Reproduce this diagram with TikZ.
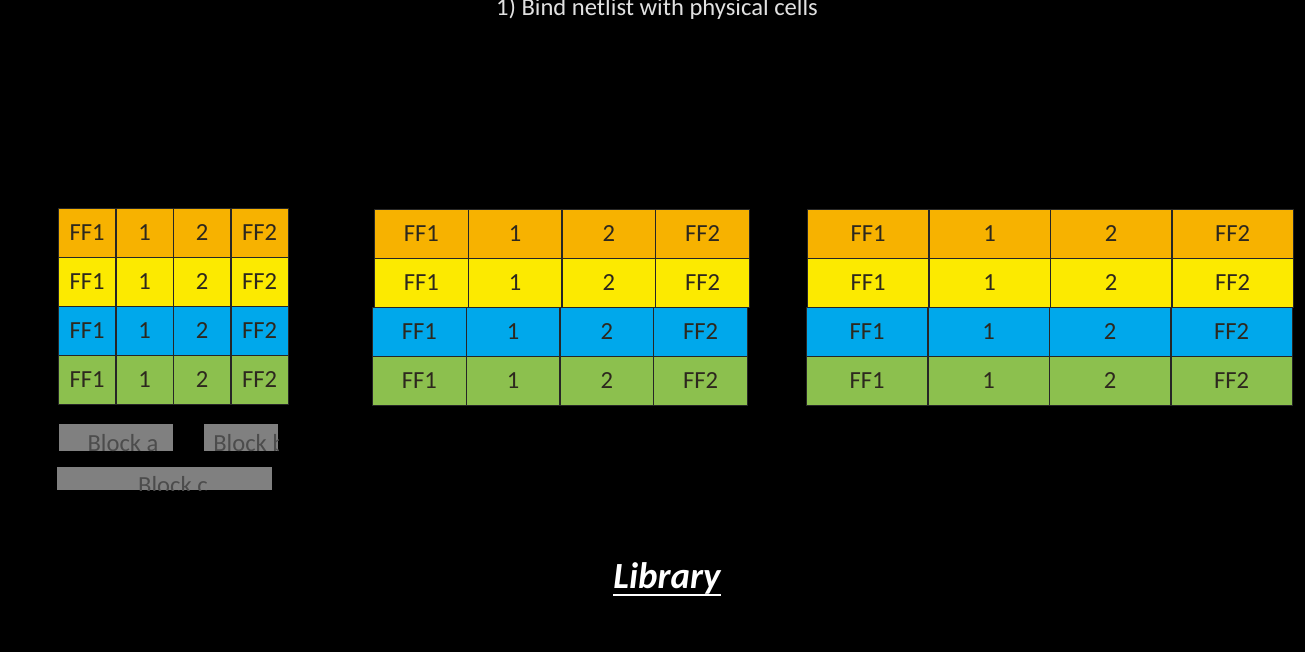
\documentclass[tikz,border=0pt]{standalone}
\usepackage{fontspec}
\setmainfont{Carlito}
\usetikzlibrary{positioning,calc}
\definecolor{ffo}{RGB}{247,178,0}
\definecolor{ffy}{RGB}{252,234,0}
\definecolor{ffb}{RGB}{0,168,235}
\definecolor{ffg}{RGB}{140,192,78}
\definecolor{blkgray}{RGB}{128,128,128}
\definecolor{celltext}{RGB}{45,40,30}
\definecolor{titlegray}{RGB}{225,225,225}
\tikzset{
  cell/.style     = {draw=black!85,line width=0.5pt,anchor=north west,inner sep=0pt,
                     text=celltext,font=\fontsize{14}{16}\selectfont,minimum height=0.98cm},
  blk/.style      = {fill=blkgray,anchor=north west,inner sep=0pt},
  blklabel/.style = {text=black!70,font=\fontsize{14}{16}\selectfont,inner sep=0pt},
  title/.style    = {text=titlegray,font=\fontsize{14}{16}\selectfont,anchor=base,inner sep=0pt},
}

\begin{document}
\begin{tikzpicture}[x=0.02cm,y=-0.02cm]
  \path[use as bounding box,fill=black] (0,0) rectangle (1305,652);
  \node[title] (title) at (657,16) {1) Bind netlist with physical cells};
  % three cell rows per colour: small, medium, large
  \foreach \r/\c/\ya/\yb/\xb/\xc in {1/ffo/208/209/374/807,2/ffy/257/258/374/807,
                                     3/ffb/306/307/372/806,4/ffg/355/356/372/806} {
    \foreach \k/\t in {1/FF1,2/1,3/2,4/FF2} {
      \node[cell,fill=\c,minimum width=1.15cm]  (s\r\k) at ({58+57.5*(\k-1)},\ya) {\t};
      \node[cell,fill=\c,minimum width=1.875cm] (m\r\k) at ({\xb+93.75*(\k-1)},\yb) {\t};
      \node[cell,fill=\c,minimum width=2.43cm]  (l\r\k) at ({\xc+121.5*(\k-1)},\yb) {\t};
    }
  }
  % blocks
  \node[blk,minimum width=2.28cm,minimum height=0.54cm] (blocka) at (59,424) {};
  \node[blk,minimum width=1.48cm,minimum height=0.54cm] (blockb) at (204,424) {};
  \node[blk,minimum width=4.3cm,minimum height=0.46cm]  (blockc) at (57,467) {};
  \begin{scope}
    \clip (blocka.south west) rectangle (blocka.north east);
    \node[blklabel,anchor=base] (labela) at (123,451) {Block a};
  \end{scope}
  \begin{scope}
    \clip (blockb.south west) rectangle (blockb.north east);
    \node[blklabel,anchor=base west] (labelb) at (213,451) {Block b};
  \end{scope}
  \begin{scope}
    \clip (blockc.south west) rectangle (blockc.north east);
    \node[blklabel,anchor=base] (labelc) at (173,493) {Block c};
  \end{scope}
  \node[anchor=base,inner sep=0pt,text=white,
        font=\fontsize{21}{24}\selectfont\bfseries\itshape] (lib) at (667,588) {Library};
  \draw[white,line width=1.6pt] ($(lib.base west)+(0,7)$) -- ($(lib.base east)+(0,7)$);
\end{tikzpicture}
\end{document}
